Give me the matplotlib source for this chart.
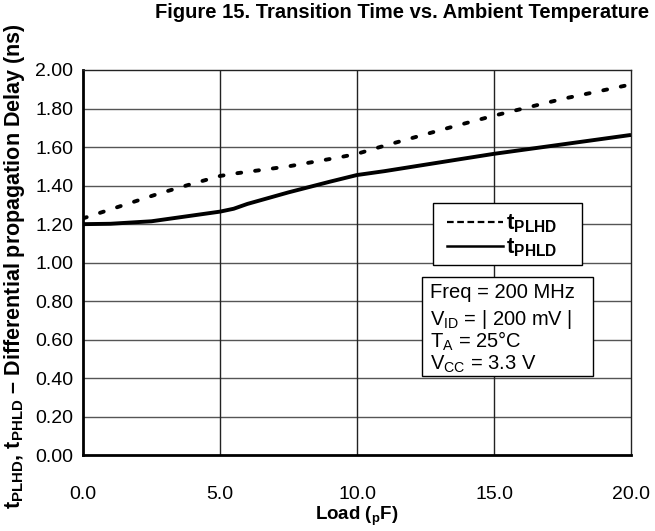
import matplotlib
matplotlib.use("Agg")
import matplotlib.pyplot as plt
from matplotlib.lines import Line2D
from matplotlib.patches import Rectangle

plt.rcParams['font.family'] = ['Liberation Sans', 'DejaVu Sans']
plt.rcParams['mathtext.fontset'] = 'custom'
plt.rcParams['mathtext.rm'] = 'Liberation Sans'
plt.rcParams['mathtext.it'] = 'Liberation Sans'
plt.rcParams['mathtext.bf'] = 'Liberation Sans:bold'

# ---- data ----
plhd_load = [0, 2.8, 4.0, 5.0, 5.5, 7.5, 9.4, 10.0, 11.0, 13.6, 15.0, 17.5, 20.0]
plhd_delay = [1.23, 1.36, 1.41, 1.45, 1.462, 1.50, 1.548, 1.565, 1.607, 1.71, 1.763, 1.85, 1.925]

phld_load = [0, 1.0, 2.5, 4.0, 5.0, 5.5, 6.0, 7.5, 9.0, 10.0, 11.0, 13.75, 15.0, 20.0]
phld_delay = [1.20, 1.202, 1.215, 1.245, 1.265, 1.28, 1.305, 1.365, 1.42, 1.455, 1.475, 1.537, 1.565, 1.663]

x_ticks = [0, 5, 10, 15, 20]
x_ticklabels = ['0.0', '5.0', '10.0', '15.0', '20.0']
y_ticks = [0.0, 0.2, 0.4, 0.6, 0.8, 1.0, 1.2, 1.4, 1.6, 1.8, 2.0]
y_ticklabels = ['0.00', '0.20', '0.40', '0.60', '0.80', '1.00', '1.20', '1.40', '1.60', '1.80', '2.00']

label_plhd = r'$\mathbf{t_{PLHD}}$'
label_phld = r'$\mathbf{t_{PHLD}}$'
info_lines = ['Freq = 200 MHz', r'V$_{\mathrm{ID}}$ = | 200 mV |', r'T$_{\mathrm{A}}$ = 25°C', r'V$_{\mathrm{CC}}$ = 3.3 V']

title = 'Figure 15. Transition Time vs. Ambient Temperature'
xlabel = r'Load ($_{\mathbf{p}}$F)'
ylabel = r'$\mathbf{t_{PLHD}}$, $\mathbf{t_{PHLD}}$ – Differential propagation Delay (ns)'

# ---- figure ----
fig = plt.figure(figsize=(6.55, 5.31), dpi=100)
ax = fig.add_axes([83/655, 1-455.4/531, 548/655, 385.4/531])

ax.set_xlim(0, 20)
ax.set_ylim(0, 2.0)

for yv in y_ticks[1:-1]:
    ax.axhline(yv, color='#555555', lw=1.0, zorder=1)
for xv in x_ticks[1:-1]:
    ax.axvline(xv, color='#222222', lw=1.0, zorder=1)

ax.plot(plhd_load, plhd_delay, color='black', lw=2.8,
        dashes=(1.0, 3.6), dash_capstyle='round', zorder=3)
ax.plot(phld_load, phld_delay, color='black', lw=2.8, solid_capstyle='butt', zorder=3)

ax.set_xticks(x_ticks)
ax.set_xticklabels(x_ticklabels)
ax.set_yticks(y_ticks)
ax.set_yticklabels(y_ticklabels)
ax.tick_params(axis='both', length=0, labelsize=14)
ax.tick_params(axis='x', pad=22)
ax.tick_params(axis='y', pad=7)

for s in ['left', 'bottom']:
    ax.spines[s].set_linewidth(2.0)
    ax.spines[s].set_color('black')
for s in ['top', 'right']:
    ax.spines[s].set_linewidth(1.0)
    ax.spines[s].set_color('#222222')

fig.text(357/655, 1-516/531, xlabel, fontsize=13.5, fontweight='bold', ha='center', va='center')
fig.text(15/655, 1-266/531, ylabel, rotation=90, fontsize=15.5, fontweight='bold',
         ha='center', va='center')
fig.text(402/655, 1-12/531, title, fontsize=14.5, fontweight='bold', ha='center', va='center')

# legend frame + legend
ax.add_patch(Rectangle((0.639, 0.494), 0.272, 0.162, transform=ax.transAxes,
                       facecolor='white', edgecolor='black', lw=1.0, zorder=5))
handles = [Line2D([], [], color='black', lw=1.6, dashes=(3.0, 1.6)),
           Line2D([], [], color='black', lw=1.8)]
leg = ax.legend(handles, [label_plhd, label_phld], loc='upper left',
                bbox_to_anchor=(0.652, 0.648), fontsize=16, frameon=False,
                handlelength=2.5, handletextpad=0.15, borderpad=0.3,
                labelspacing=0.08, borderaxespad=0)
leg.set_zorder(6)

# info box
ax.add_patch(Rectangle((0.618, 0.207), 0.312, 0.255, transform=ax.transAxes,
                       facecolor='white', edgecolor='black', lw=1.0, zorder=5))
ys = [0.423, 0.352, 0.295, 0.237]
for t, yy in zip(info_lines, ys):
    ax.text(0.634, yy, t, transform=ax.transAxes, fontsize=14.5, va='center',
            ha='left', zorder=6)

fig.savefig('out.png', dpi=100)
